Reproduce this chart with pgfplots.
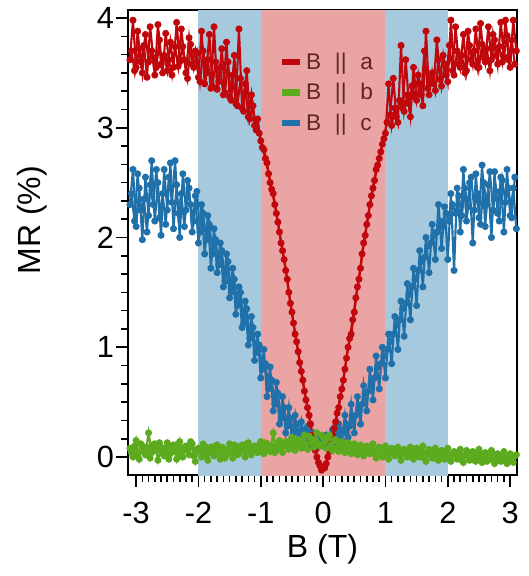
\documentclass[border=0pt]{standalone}
\usepackage{fontspec}
\setmainfont{Liberation Sans}
\usepackage{pgfplots}
\usepackage{pgfplotstable}
\pgfplotsset{compat=1.18}
\definecolor{cA}{RGB}{192,8,12}
\definecolor{cB}{RGB}{92,170,30}
\definecolor{cC}{RGB}{32,112,170}
\definecolor{bandC}{RGB}{166,201,222}
\definecolor{bandA}{RGB}{234,164,164}
\definecolor{legtxt}{RGB}{100,36,36}

\pgfplotstableread{
x y
-3.10 3.62
-3.05 3.98
-3.00 3.55
-2.95 3.72
-2.90 3.50
-2.85 3.85
-2.80 3.60
-2.75 3.70
-2.70 3.48
-2.65 3.94
-2.60 3.58
-2.55 3.66
-2.50 3.52
-2.45 3.78
-2.40 3.55
-2.35 3.96
-2.30 3.60
-2.25 3.74
-2.20 3.50
-2.15 3.82
-2.10 3.58
-2.05 3.70
-2.00 3.46
-1.95 3.88
-1.90 3.40
-1.85 3.62
-1.80 3.36
-1.75 3.92
-1.70 3.35
-1.65 3.55
-1.60 3.30
-1.55 3.78
-1.50 3.28
-1.45 3.48
-1.40 3.22
-1.35 3.90
-1.30 3.18
-1.25 3.40
-1.20 3.10
-1.15 3.30
-1.10 3.02
-1.05 3.08
-1.00 2.88
-0.95 2.80
-0.90 2.68
-0.85 2.50
-0.80 2.40
-0.75 2.22
-0.70 2.05
-0.65 1.88
-0.60 1.70
-0.55 1.50
-0.50 1.32
-0.45 1.12
-0.40 0.96
-0.35 0.78
-0.30 0.60
-0.25 0.45
-0.20 0.30
-0.15 0.12
-0.10 0.00
-0.05 -0.08
0.00 -0.10
0.05 -0.06
0.10 0.05
0.15 0.20
0.20 0.32
0.25 0.45
0.30 0.62
0.35 0.80
0.40 1.00
0.45 1.12
0.50 1.32
0.55 1.55
0.60 1.72
0.65 1.95
0.70 2.12
0.75 2.30
0.80 2.45
0.85 2.62
0.90 2.72
0.95 2.85
1.00 2.95
1.05 3.40
1.10 3.02
1.15 3.18
1.20 3.05
1.25 3.75
1.30 3.15
1.35 3.30
1.40 3.10
1.45 3.55
1.50 3.25
1.55 3.40
1.60 3.20
1.65 3.88
1.70 3.30
1.75 3.50
1.80 3.34
1.85 3.62
1.90 3.38
1.95 3.58
2.00 3.42
2.05 3.98
2.10 3.48
2.15 3.70
2.20 3.55
2.25 3.85
2.30 3.52
2.35 3.75
2.40 3.58
2.45 3.90
2.50 3.55
2.55 3.76
2.60 3.60
2.65 3.92
2.70 3.62
2.75 3.80
2.80 3.58
2.85 3.96
2.90 3.65
2.95 3.84
3.00 3.55
3.05 3.98
3.10 3.70
}\dataA

\pgfplotstableread{
x y
-3.075 3.70
-3.025 3.52
-2.975 3.88
-2.925 3.60
-2.875 3.75
-2.825 3.46
-2.775 3.92
-2.725 3.64
-2.675 3.55
-2.625 3.80
-2.575 3.50
-2.525 3.86
-2.475 3.62
-2.425 3.48
-2.375 3.74
-2.325 3.56
-2.275 3.90
-2.225 3.62
-2.175 3.45
-2.125 3.76
-2.075 3.55
-2.025 3.68
-1.975 3.42
-1.925 3.70
-1.875 3.50
-1.825 3.85
-1.775 3.38
-1.725 3.60
-1.675 3.42
-1.625 3.72
-1.575 3.32
-1.525 3.60
-1.475 3.25
-1.425 3.66
-1.375 3.20
-1.325 3.45
-1.275 3.15
-1.225 3.52
-1.175 3.08
-1.125 3.20
-1.075 2.98
-1.025 2.95
-0.975 2.82
-0.925 2.72
-0.875 2.58
-0.825 2.44
-0.775 2.30
-0.725 2.14
-0.675 1.95
-0.625 1.80
-0.575 1.62
-0.525 1.40
-0.475 1.22
-0.425 1.05
-0.375 0.86
-0.325 0.70
-0.275 0.52
-0.225 0.38
-0.175 0.20
-0.125 0.06
-0.075 -0.05
-0.025 -0.12
0.025 -0.10
0.075 0.00
0.125 0.12
0.175 0.26
0.225 0.40
0.275 0.55
0.325 0.70
0.375 0.90
0.425 1.08
0.475 1.25
0.525 1.45
0.575 1.62
0.625 1.85
0.675 2.02
0.725 2.20
0.775 2.38
0.825 2.52
0.875 2.66
0.925 2.78
0.975 2.90
1.025 3.05
1.075 3.12
1.125 3.45
1.175 3.10
1.225 3.25
1.275 3.18
1.325 3.62
1.375 3.22
1.425 3.38
1.475 3.28
1.525 3.48
1.575 3.30
1.625 3.70
1.675 3.36
1.725 3.45
1.775 3.40
1.825 3.80
1.875 3.44
1.925 3.66
1.975 3.48
2.025 3.75
2.075 3.52
2.125 3.92
2.175 3.58
2.225 3.66
2.275 3.50
2.325 3.88
2.375 3.62
2.425 3.70
2.475 3.55
2.525 3.95
2.575 3.64
2.625 3.72
2.675 3.52
2.725 3.85
2.775 3.66
2.825 3.74
2.875 3.60
2.925 3.98
2.975 3.62
3.025 3.80
3.075 3.58
}\dataAA

\pgfplotstableread{
x y
-3.10 0.08
-3.05 0.00
-3.00 0.15
-2.95 -0.02
-2.90 0.10
-2.85 0.02
-2.80 0.22
-2.75 0.04
-2.70 0.12
-2.65 -0.03
-2.60 0.09
-2.55 0.01
-2.50 0.13
-2.45 0.03
-2.40 0.11
-2.35 -0.02
-2.30 0.14
-2.25 0.00
-2.20 0.10
-2.15 0.02
-2.10 0.12
-2.05 -0.04
-2.00 0.08
-1.95 0.00
-1.90 0.10
-1.85 -0.03
-1.80 0.09
-1.75 0.01
-1.70 0.11
-1.65 -0.02
-1.60 0.08
-1.55 0.02
-1.50 0.12
-1.45 -0.01
-1.40 0.10
-1.35 0.03
-1.30 0.11
-1.25 0.00
-1.20 0.13
-1.15 0.02
-1.10 0.10
-1.05 0.04
-1.00 0.14
-0.95 0.03
-0.90 0.12
-0.85 0.05
-0.80 0.22
-0.75 0.06
-0.70 0.15
-0.65 0.04
-0.60 0.14
-0.55 0.07
-0.50 0.18
-0.45 0.06
-0.40 0.16
-0.35 0.08
-0.30 0.20
-0.25 0.07
-0.20 0.17
-0.15 0.09
-0.10 0.22
-0.05 0.10
0.00 0.18
0.05 0.08
0.10 0.20
0.15 0.06
0.20 0.16
0.25 0.05
0.30 0.14
0.35 0.04
0.40 0.13
0.45 0.03
0.50 0.12
0.55 0.02
0.60 0.11
0.65 0.01
0.70 0.10
0.75 0.03
0.80 0.12
0.85 -0.01
0.90 0.09
0.95 0.00
1.00 0.10
1.05 -0.02
1.10 0.08
1.15 0.01
1.20 0.09
1.25 -0.03
1.30 0.07
1.35 0.00
1.40 0.09
1.45 -0.02
1.50 0.08
1.55 0.00
1.60 0.10
1.65 -0.04
1.70 0.07
1.75 -0.01
1.80 0.08
1.85 -0.03
1.90 0.06
1.95 -0.02
2.00 0.08
2.05 -0.04
2.10 0.05
2.15 -0.02
2.20 0.07
2.25 -0.05
2.30 0.06
2.35 -0.03
2.40 0.05
2.45 -0.04
2.50 0.07
2.55 -0.05
2.60 0.04
2.65 -0.03
2.70 0.06
2.75 -0.06
2.80 0.03
2.85 -0.04
2.90 0.05
2.95 -0.06
3.00 0.03
3.05 -0.05
3.10 0.02
}\dataB

\pgfplotstableread{
x y
-3.075 0.04
-3.025 0.10
-2.975 0.02
-2.925 0.12
-2.875 0.05
-2.825 0.09
-2.775 -0.01
-2.725 0.11
-2.675 0.06
-2.625 0.13
-2.575 0.03
-2.525 0.08
-2.475 -0.02
-2.425 0.10
-2.375 0.05
-2.325 0.12
-2.275 0.02
-2.225 0.09
-2.175 0.06
-2.125 0.14
-2.075 0.01
-2.025 0.07
-1.975 0.05
-1.925 0.12
-1.875 0.02
-1.825 0.08
-1.775 0.04
-1.725 0.10
-1.675 0.03
-1.625 0.09
-1.575 -0.01
-1.525 0.07
-1.475 0.05
-1.425 0.11
-1.375 0.02
-1.325 0.08
-1.275 0.06
-1.225 0.12
-1.175 0.03
-1.125 0.09
-1.075 0.06
-1.025 0.11
-0.975 0.05
-0.925 0.13
-0.875 0.07
-0.825 0.10
-0.775 0.04
-0.725 0.12
-0.675 0.08
-0.625 0.13
-0.575 0.10
-0.525 0.15
-0.475 0.09
-0.425 0.14
-0.375 0.11
-0.325 0.16
-0.275 0.12
-0.225 0.19
-0.175 0.13
-0.125 0.16
-0.075 0.12
-0.025 0.20
0.025 0.14
0.075 0.17
0.125 0.11
0.175 0.15
0.225 0.09
0.275 0.13
0.325 0.08
0.375 0.12
0.425 0.07
0.475 0.10
0.525 0.05
0.575 0.09
0.625 0.04
0.675 0.08
0.725 0.06
0.775 0.09
0.825 0.03
0.875 0.07
0.925 0.04
0.975 0.08
1.025 0.02
1.075 0.06
1.125 0.03
1.175 0.07
1.225 0.01
1.275 0.05
1.325 0.03
1.375 0.06
1.425 0.00
1.475 0.05
1.525 0.02
1.575 0.06
1.625 -0.01
1.675 0.04
1.725 0.02
1.775 0.05
1.825 -0.02
1.875 0.04
1.925 0.01
1.975 0.05
2.025 -0.02
2.075 0.03
2.125 0.01
2.175 0.04
2.225 -0.03
2.275 0.02
2.325 0.00
2.375 0.04
2.425 -0.03
2.475 0.02
2.525 -0.01
2.575 0.03
2.625 -0.04
2.675 0.01
2.725 -0.02
2.775 0.02
2.825 -0.03
2.875 0.01
2.925 -0.04
2.975 0.00
3.025 -0.03
3.075 0.01
}\dataBB

\pgfplotstableread{
x y
-3.10 2.30
-3.05 2.62
-3.00 2.10
-2.95 2.45
-2.90 1.98
-2.85 2.55
-2.80 2.20
-2.75 2.70
-2.70 2.15
-2.65 2.50
-2.60 2.02
-2.55 2.62
-2.50 2.25
-2.45 2.68
-2.40 2.08
-2.35 2.48
-2.30 2.00
-2.25 2.58
-2.20 2.25
-2.15 2.45
-2.10 2.05
-2.05 2.38
-2.00 1.95
-1.95 2.30
-1.90 1.85
-1.85 2.20
-1.80 1.72
-1.75 2.08
-1.70 1.68
-1.65 1.95
-1.60 1.55
-1.55 1.85
-1.50 1.45
-1.45 1.72
-1.40 1.30
-1.35 1.55
-1.30 1.18
-1.25 1.42
-1.20 1.02
-1.15 1.28
-1.10 0.88
-1.05 1.12
-1.00 0.72
-0.95 0.98
-0.90 0.55
-0.85 0.82
-0.80 0.42
-0.75 0.68
-0.70 0.30
-0.65 0.55
-0.60 0.22
-0.55 0.45
-0.50 0.18
-0.45 0.38
-0.40 0.15
-0.35 0.32
-0.30 0.12
-0.25 0.28
-0.20 0.10
-0.15 0.22
-0.10 0.08
-0.05 0.18
0.00 0.10
0.05 0.20
0.10 0.08
0.15 0.25
0.20 0.12
0.25 0.30
0.30 0.15
0.35 0.38
0.40 0.18
0.45 0.48
0.50 0.22
0.55 0.55
0.60 0.30
0.65 0.65
0.70 0.42
0.75 0.80
0.80 0.52
0.85 0.92
0.90 0.62
0.95 1.00
1.00 0.72
1.05 1.12
1.10 0.85
1.15 1.28
1.20 0.98
1.25 1.42
1.30 1.10
1.35 1.58
1.40 1.25
1.45 1.72
1.50 1.38
1.55 1.88
1.60 1.55
1.65 2.00
1.70 1.68
1.75 2.12
1.80 1.80
1.85 2.30
1.90 1.90
1.95 2.28
2.00 1.80
2.05 2.40
2.10 1.70
2.15 2.45
2.20 2.05
2.25 2.62
2.30 2.15
2.35 2.50
2.40 1.95
2.45 2.58
2.50 2.18
2.55 2.66
2.60 2.10
2.65 2.48
2.70 2.00
2.75 2.60
2.80 2.22
2.85 2.55
2.90 2.05
2.95 2.62
3.00 2.20
3.05 2.45
3.10 2.08
}\dataC

\pgfplotstableread{
x y
-3.075 2.40
-3.025 2.15
-2.975 2.58
-2.925 2.25
-2.875 2.35
-2.825 2.05
-2.775 2.48
-2.725 2.30
-2.675 2.62
-2.625 2.18
-2.575 2.40
-2.525 2.12
-2.475 2.55
-2.425 2.32
-2.375 2.70
-2.325 2.22
-2.275 2.40
-2.225 2.10
-2.175 2.52
-2.125 2.30
-2.075 2.15
-2.025 2.42
-1.975 2.05
-1.925 2.22
-1.875 1.98
-1.825 2.12
-1.775 1.85
-1.725 1.98
-1.675 1.75
-1.625 1.88
-1.575 1.60
-1.525 1.78
-1.475 1.50
-1.425 1.62
-1.375 1.38
-1.325 1.50
-1.275 1.22
-1.225 1.35
-1.175 1.08
-1.125 1.18
-1.075 0.95
-1.025 1.02
-0.975 0.80
-0.925 0.85
-0.875 0.62
-0.825 0.70
-0.775 0.48
-0.725 0.58
-0.675 0.35
-0.625 0.45
-0.575 0.28
-0.525 0.35
-0.475 0.22
-0.425 0.30
-0.375 0.18
-0.325 0.25
-0.275 0.15
-0.225 0.22
-0.175 0.12
-0.125 0.18
-0.075 0.10
-0.025 0.15
0.025 0.12
0.075 0.18
0.125 0.14
0.175 0.22
0.225 0.18
0.275 0.25
0.325 0.22
0.375 0.30
0.425 0.28
0.475 0.35
0.525 0.38
0.575 0.45
0.625 0.48
0.675 0.58
0.725 0.60
0.775 0.68
0.825 0.72
0.875 0.82
0.925 0.85
0.975 0.92
1.025 0.98
1.075 1.05
1.125 1.12
1.175 1.20
1.225 1.25
1.275 1.35
1.325 1.40
1.375 1.48
1.425 1.55
1.475 1.62
1.525 1.70
1.575 1.78
1.625 1.82
1.675 1.92
1.725 1.95
1.775 2.02
1.825 2.05
1.875 2.15
1.925 2.10
1.975 2.22
2.025 2.15
2.075 2.30
2.125 2.22
2.175 2.38
2.225 2.20
2.275 2.45
2.325 2.28
2.375 2.55
2.425 2.25
2.475 2.40
2.525 2.12
2.575 2.50
2.625 2.30
2.675 2.60
2.725 2.25
2.775 2.42
2.825 2.15
2.875 2.52
2.925 2.32
2.975 2.45
3.025 2.18
3.075 2.55
}\dataCC

\begin{document}
\begin{tikzpicture}
\useasboundingbox (-96pt,-75.75pt) rectangle (300.75pt,356.25pt);
\begin{axis}[
  at={(0pt,0pt)}, anchor=south west,
  width=291.75pt, height=348.75pt, scale only axis,
  xmin=-3.13, xmax=3.11, ymin=-0.164, ymax=4.073,
  axis line style={line width=1.3pt},
  xtick={-3,-2,-1,0,1,2,3}, xticklabels={-3,-2,-1,0,1,2,3},
  ytick={0,1,2,3,4}, yticklabels={0,1,2,3,4},
  minor x tick num=9, minor y tick num=5,
  tick align=outside, xtick pos=left, ytick pos=left,
  major tick length=9pt, minor tick length=5pt,
  every tick/.style={black, line width=1.2pt},
  ticklabel style={font=\fontsize{23}{26}\selectfont},
  xticklabel style={yshift=-8pt},
  yticklabel style={xshift=2pt},
  xlabel={B (T)}, ylabel={MR (\%)},
  label style={font=\fontsize{24}{28}\selectfont},
  xlabel style={at={(rel axis cs:0.5,-0.159)}, anchor=center},
  ylabel style={at={(rel axis cs:-0.247,0.548)}, anchor=center},
  legend style={at={(rel axis cs:0.377,0.92)}, anchor=north west, draw=none, fill=none,
    font=\fontsize{17}{19}\selectfont\color{legtxt}, row sep=5pt},
  legend cell align=left,
  legend image code/.code={\draw[#1, line width=5pt] (0pt,0pt) -- (13.5pt,0pt);},
  every axis plot/.append style={line width=1.6pt, mark=*, mark size=1.8pt},
]
\addplot[fill=bandC, draw=none, mark=none, forget plot] coordinates {(-2,-0.4) (-2,4.3) (2,4.3) (2,-0.4)} -- cycle;
\addplot[fill=bandA, draw=none, mark=none, forget plot] coordinates {(-1,-0.4) (-1,4.3) (1,4.3) (1,-0.4)} -- cycle;
\addlegendimage{cA}
\addlegendentry{B\hspace{0.6em}||\hspace{0.6em}a}
\addlegendimage{cB}
\addlegendentry{B\hspace{0.6em}||\hspace{0.6em}b}
\addlegendimage{cC}
\addlegendentry{B\hspace{0.6em}||\hspace{0.6em}c}
\addplot[color=cC, mark options={fill=cC}, forget plot] table[x=x,y=y] {\dataC};
\addplot[color=cC, mark options={fill=cC}, forget plot] table[x=x,y=y] {\dataCC};
\addplot[color=cA, mark options={fill=cA}, forget plot] table[x=x,y=y] {\dataA};
\addplot[color=cA, mark options={fill=cA}, forget plot] table[x=x,y=y] {\dataAA};
\addplot[color=cB, mark options={fill=cB}, forget plot] table[x=x,y=y] {\dataB};
\addplot[color=cB, mark options={fill=cB}, forget plot] table[x=x,y=y] {\dataBB};
\end{axis}
\end{tikzpicture}
\end{document}
